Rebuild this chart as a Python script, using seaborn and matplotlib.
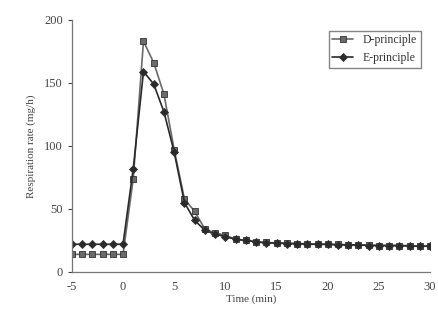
import numpy as np
import pandas as pd
import seaborn as sns
from matplotlib import pyplot as plt

# time points (min)
time = list(range(-5, 31))

# D-principle respiration rate (mg/h)
d_rate = [14, 14, 14, 14, 14, 14,
          74, 183, 166, 141, 97, 58, 48, 34, 31, 29,
          26, 25, 24, 23.5, 23, 23, 22.5, 22.5, 22, 22,
          22, 21.5, 21.5, 21.5, 21, 21, 21, 21, 20.5, 20.5]

# E-principle respiration rate (mg/h)
e_rate = [22, 22, 22, 22, 22, 22,
          82, 159, 149, 127, 95, 55, 41, 33, 30, 28,
          26, 25, 24, 23, 23, 22.5, 22.5, 22, 22, 22,
          21.5, 21.5, 21.5, 21, 21, 21, 21, 20.5, 20.5, 20.5]

df = pd.DataFrame({
    "Time (min)": time * 2,
    "rate": d_rate + e_rate,
    "series": ["D-principle"] * len(time) + ["E-principle"] * len(time),
})

sns.set_style("white")
plt.rcParams['font.family'] = ['Liberation Serif', 'DejaVu Serif']
plt.rcParams['axes.unicode_minus'] = False

fig = plt.figure(figsize=(4.38, 3.20), dpi=100)
ax = fig.add_axes([0.164, 0.15, 0.818, 0.788])

sns.lineplot(data=df, x="Time (min)", y="rate", hue="series", style="series",
             markers={"D-principle": "s", "E-principle": "D"}, dashes=False,
             palette={"D-principle": "#6a6a6a", "E-principle": "#2a2a2a"},
             markersize=4, linewidth=1.2, markeredgecolor="#333333",
             markeredgewidth=0.6, ax=ax)

ax.set_xlim(-5, 30)
ax.set_ylim(0, 200)
ax.set_xticks([-5, 0, 5, 10, 15, 20, 25, 30])
ax.set_yticks([0, 50, 100, 150, 200])
ax.set_xlabel("Time (min)", fontsize=8, color="#444444", labelpad=1)
ax.set_ylabel("Respiration rate (mg/h)", fontsize=8, color="#444444", labelpad=6)
ax.tick_params(axis="both", labelsize=9, colors="#444444", length=3,
               direction="out", left=True, bottom=False)
for side in ["top", "right"]:
    ax.spines[side].set_visible(False)
for side in ["left", "bottom"]:
    ax.spines[side].set_color("#777777")
    ax.spines[side].set_linewidth(0.9)

leg = ax.legend(title=None, loc="upper right", fontsize=8.5, frameon=True,
                fancybox=False, edgecolor="#666666", handlelength=1.8,
                borderpad=0.3, labelspacing=0.5, bbox_to_anchor=(0.99, 0.98))
for t in leg.get_texts():
    t.set_color("#333333")

fig.savefig("out.png", dpi=100)
